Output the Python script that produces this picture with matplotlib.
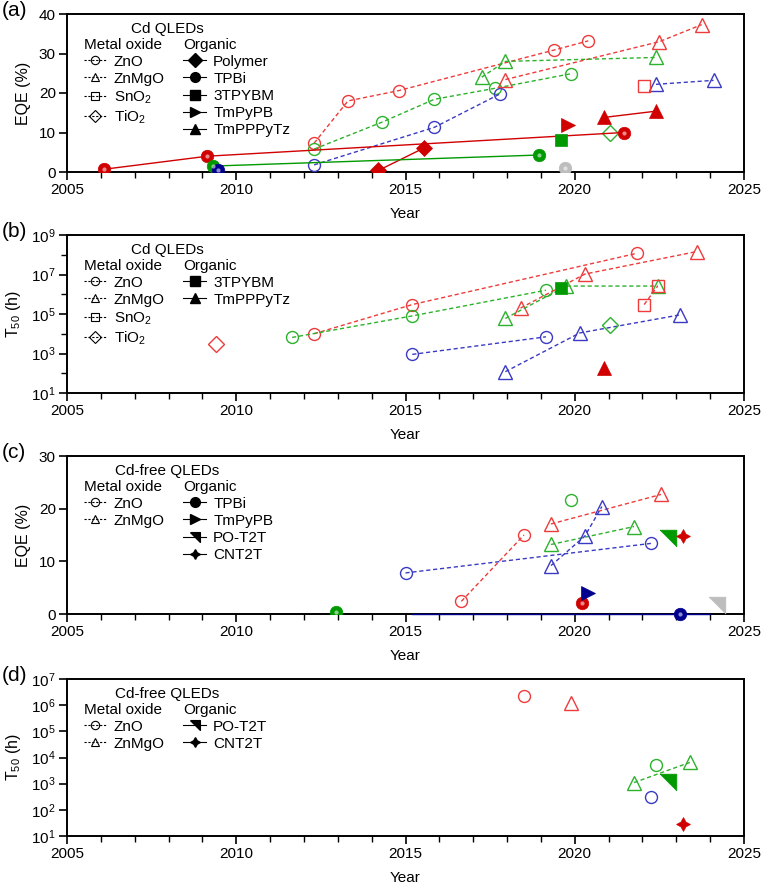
"""Cd / Cd-free QLED EQE and T50 progress vs year"""
import matplotlib
matplotlib.use('Agg')
import matplotlib.pyplot as plt
from matplotlib.lines import Line2D
from matplotlib.ticker import FixedLocator, NullFormatter

plt.rcParams['font.family'] = ['Liberation Sans', 'DejaVu Sans']
plt.rcParams['mathtext.fontset'] = 'custom'
plt.rcParams['mathtext.rm'] = 'Liberation Sans'

# colours
R_OPEN = '#EE3B3B'; G_OPEN = '#2CB22C'; B_OPEN = '#3A3AC4'
R_FILL = '#D00000'; G_FILL = '#009A00'; B_FILL = '#00008E'; GRAY = '#BDBDBD'
PO_T2T = [(-1, 1), (1, 1), (1, -1), (-1, 1)]
CNT2T = (4, 1, 0)

# ---------------- (a) Cd QLEDs, EQE (%) ----------------
a_zno_r_x = [2012.3, 2013.3, 2014.8, 2019.4, 2020.4]
a_zno_r_y = [7.3, 18.0, 20.6, 30.9, 33.2]
a_zno_g_x = [2012.3, 2014.3, 2015.85, 2017.65, 2019.9]
a_zno_g_y = [5.8, 12.6, 18.4, 21.2, 24.9]
a_zno_b_x = [2012.3, 2015.85, 2017.8]
a_zno_b_y = [1.8, 11.3, 19.8]
a_znmgo_r_x = [2017.95, 2022.5, 2023.75]
a_znmgo_r_y = [23.4, 33.0, 37.3]
a_znmgo_g_x = [2017.25, 2017.95, 2022.4]
a_znmgo_g_y = [24.0, 28.0, 29.0]
a_znmgo_b_x = [2022.4, 2024.1]
a_znmgo_b_y = [22.2, 23.2]
a_sno2_r_x = [2022.05]; a_sno2_r_y = [21.8]
a_tio2_g_x = [2021.05]; a_tio2_g_y = [10.0]
a_polymer_r_x = [2014.2, 2015.55]; a_polymer_r_y = [0.4, 6.1]
a_tpbi_r_x = [2006.1, 2009.15, 2021.45]; a_tpbi_r_y = [0.7, 4.0, 10.0]
a_tpbi_g_x = [2009.3, 2018.95]; a_tpbi_g_y = [1.5, 4.3]
a_tpbi_b_x = [2009.45]; a_tpbi_b_y = [0.5]
a_tpbi_k_x = [2019.7]; a_tpbi_k_y = [1.0]
a_3tpybm_g_x = [2019.6]; a_3tpybm_g_y = [8.1]
a_tmpypb_r_x = [2019.8]; a_tmpypb_r_y = [11.9]
a_tmpppytz_r_x = [2020.85, 2022.4]; a_tmpppytz_r_y = [13.8, 15.4]

# ---------------- (b) Cd QLEDs, T50 (h) ----------------
b_zno_r_x = [2012.3, 2015.2, 2021.85]; b_zno_r_y = [1e4, 3e5, 1.2e8]
b_zno_g_x = [2011.65, 2015.2, 2019.15]; b_zno_g_y = [6.5e3, 8e4, 1.6e6]
b_zno_b_x = [2015.2, 2019.15]; b_zno_b_y = [900, 7e3]
b_znmgo_r_x = [2018.4, 2020.3, 2023.6]; b_znmgo_r_y = [2e5, 1.05e7, 1.45e8]
b_znmgo_g_x = [2017.95, 2019.75, 2022.45]; b_znmgo_g_y = [6e4, 2.6e6, 2.6e6]
b_znmgo_b_x = [2017.95, 2020.15, 2023.1]; b_znmgo_b_y = [120, 1.1e4, 9e4]
b_sno2_r_x = [2022.05, 2022.45]; b_sno2_r_y = [3e5, 2.6e6]
b_tio2_r_x = [2009.4]; b_tio2_r_y = [3e3]
b_tio2_g_x = [2021.05]; b_tio2_g_y = [2.7e4]
b_3tpybm_g_x = [2019.6]; b_3tpybm_g_y = [2e6]
b_tmpppytz_r_x = [2020.85]; b_tmpppytz_r_y = [190]

# ---------------- (c) Cd-free QLEDs, EQE (%) ----------------
c_zno_b_x = [2015.0, 2022.25]; c_zno_b_y = [7.8, 13.4]
c_zno_r_x = [2016.65, 2018.5]; c_zno_r_y = [2.4, 15.0]
c_zno_g_x = [2019.9]; c_zno_g_y = [21.6]
c_znmgo_r_x = [2019.3, 2022.55]; c_znmgo_r_y = [17.1, 22.7]
c_znmgo_g_x = [2019.3, 2021.75]; c_znmgo_g_y = [13.2, 16.6]
c_znmgo_b_x = [2019.3, 2020.3, 2020.8]; c_znmgo_b_y = [9.2, 14.8, 20.4]
c_tpbi_r_x = [2020.2]; c_tpbi_r_y = [2.1]
c_tpbi_g_x = [2012.95]; c_tpbi_g_y = [0.3]
c_tpbi_b_x = [2015.2, 2023.1, 2024.0]; c_tpbi_b_y = [0, 0, 0]
c_tmpypb_b_x = [2020.4]; c_tmpypb_b_y = [4.0]
c_pot2t_g_x = [2022.75]; c_pot2t_g_y = [14.5]
c_pot2t_k_x = [2024.2]; c_pot2t_k_y = [1.8]
c_cnt2t_r_x = [2023.2]; c_cnt2t_r_y = [14.9]

# ---------------- (d) Cd-free QLEDs, T50 (h) ----------------
d_zno_r_x = [2018.5]; d_zno_r_y = [2.2e6]
d_znmgo_r_x = [2019.9]; d_znmgo_r_y = [1.2e6]
d_zno_g_x = [2022.4]; d_zno_g_y = [5e3]
d_znmgo_g_x = [2021.75, 2023.4]; d_znmgo_g_y = [1.1e3, 6.5e3]
d_pot2t_g_x = [2022.75]; d_pot2t_g_y = [1.2e3]
d_zno_b_x = [2022.25]; d_zno_b_y = [300]
d_cnt2t_r_x = [2023.2]; d_cnt2t_r_y = [30]

OXIDE_MARK = {'ZnO': ('o', 8.6), 'ZnMgO': ('^', 9.5), 'SnO2': ('s', 8.8), 'TiO2': ('D', 8.6)}


def oxide(ax, x, y, kind, color):
    m, ms = OXIDE_MARK[kind]
    ax.plot(x, y, ls=(0, (3, 2)), lw=1.0, color=color, marker=m, ms=ms,
            mfc='none', mec=color, mew=1.0, zorder=3)


def organic(ax, x, y, marker, color, ms=9, **kw):
    ax.plot(x, y, ls='-', lw=1.0, color=color, marker=marker, ms=ms,
            mfc=color, mec=color, mew=0.5, zorder=4, **kw)


def ball(ax, x, y, color, **kw):
    organic(ax, x, y, 'o', color, ms=9, **kw)
    ax.plot(x, y, ls='none', marker='o', ms=3, mfc='white', mec='none',
            alpha=0.55, zorder=5, **kw)


def legend(ax, title, oxides, organics, top=0.85):
    ax.text(0.148, 0.905, title, transform=ax.transAxes, ha='center',
            va='center', fontsize=11)
    h1 = [Line2D([], [], ls=(0, (2, 1.5)), lw=0.8, color='k', marker=OXIDE_MARK[k][0],
                 ms=6, mfc='none', mew=0.8) for k, _ in oxides]
    h2 = [Line2D([], [], ls='-', lw=0.8, color='k', marker=m, ms=7, mfc='k', mec='k')
          for _, m in organics]
    kw = dict(frameon=False, fontsize=11, title_fontsize=11, handlelength=1.5,
              handletextpad=0.45, labelspacing=0.2, borderpad=0, borderaxespad=0,
              alignment='left')
    l1 = ax.legend(h1, [lab for _, lab in oxides], title='Metal oxide', loc='upper left',
                   bbox_to_anchor=(0.025, top), **kw)
    ax.add_artist(l1)
    ax.legend(h2, [lab for lab, _ in organics], title='Organic', loc='upper left',
              bbox_to_anchor=(0.172, top), **kw)


def style(ax, ylabel, letter):
    ax.set_xlim(2005, 2025)
    ax.set_xticks([2005, 2010, 2015, 2020, 2025])
    ax.xaxis.set_minor_locator(FixedLocator(range(2005, 2026)))
    ax.tick_params(axis='both', which='major', direction='out', length=6, width=1.2,
                   labelsize=11, pad=2)
    ax.tick_params(axis='both', which='minor', direction='out', length=4, width=1.0)
    for s in ax.spines.values():
        s.set_linewidth(1.4)
    ax.set_xlabel('Year', fontsize=11, labelpad=7)
    ax.set_ylabel(ylabel, fontsize=11.5, labelpad=6)
    ax.text(-0.097, 1.02, letter, transform=ax.transAxes, fontsize=15, ha='left', va='center')


fig = plt.figure(figsize=(7.62, 8.85), dpi=100)
L, W = 67 / 762, 677 / 762
axa = fig.add_axes([L, 1 - 172 / 885, W, 158 / 885])
axb = fig.add_axes([L, 1 - 393 / 885, W, 158 / 885])
axc = fig.add_axes([L, 1 - 614 / 885, W, 158 / 885])
axd = fig.add_axes([L, 1 - 836 / 885, W, 157 / 885])

# (a)
ax = axa
oxide(ax, a_zno_r_x, a_zno_r_y, 'ZnO', R_OPEN)
oxide(ax, a_zno_g_x, a_zno_g_y, 'ZnO', G_OPEN)
oxide(ax, a_zno_b_x, a_zno_b_y, 'ZnO', B_OPEN)
oxide(ax, a_znmgo_r_x, a_znmgo_r_y, 'ZnMgO', R_OPEN)
oxide(ax, a_znmgo_g_x, a_znmgo_g_y, 'ZnMgO', G_OPEN)
oxide(ax, a_znmgo_b_x, a_znmgo_b_y, 'ZnMgO', B_OPEN)
oxide(ax, a_sno2_r_x, a_sno2_r_y, 'SnO2', R_OPEN)
oxide(ax, a_tio2_g_x, a_tio2_g_y, 'TiO2', G_OPEN)
organic(ax, a_polymer_r_x, a_polymer_r_y, 'D', R_FILL, ms=8.5)
ball(ax, a_tpbi_r_x, a_tpbi_r_y, R_FILL)
ball(ax, a_tpbi_g_x, a_tpbi_g_y, G_FILL)
ball(ax, a_tpbi_b_x, a_tpbi_b_y, B_FILL)
ball(ax, a_tpbi_k_x, a_tpbi_k_y, GRAY)
organic(ax, a_3tpybm_g_x, a_3tpybm_g_y, 's', G_FILL, ms=9)
organic(ax, a_tmpypb_r_x, a_tmpypb_r_y, '>', R_FILL, ms=10)
organic(ax, a_tmpppytz_r_x, a_tmpppytz_r_y, '^', R_FILL, ms=10.5)
ax.set_ylim(0, 40)
ax.set_yticks([0, 10, 20, 30, 40])
style(ax, 'EQE (%)', '(a)')
legend(ax, 'Cd QLEDs', [('ZnO', 'ZnO'), ('ZnMgO', 'ZnMgO'), ('SnO2', 'SnO$_2$'), ('TiO2', 'TiO$_2$')],
       [('Polymer', 'D'), ('TPBi', 'o'), ('3TPYBM', 's'), ('TmPyPB', '>'), ('TmPPPyTz', '^')])

# (b)
ax = axb
ax.set_yscale('log')
oxide(ax, b_zno_r_x, b_zno_r_y, 'ZnO', R_OPEN)
oxide(ax, b_zno_g_x, b_zno_g_y, 'ZnO', G_OPEN)
oxide(ax, b_zno_b_x, b_zno_b_y, 'ZnO', B_OPEN)
oxide(ax, b_znmgo_r_x, b_znmgo_r_y, 'ZnMgO', R_OPEN)
oxide(ax, b_znmgo_g_x, b_znmgo_g_y, 'ZnMgO', G_OPEN)
oxide(ax, b_znmgo_b_x, b_znmgo_b_y, 'ZnMgO', B_OPEN)
oxide(ax, b_sno2_r_x, b_sno2_r_y, 'SnO2', R_OPEN)
oxide(ax, b_tio2_r_x, b_tio2_r_y, 'TiO2', R_OPEN)
oxide(ax, b_tio2_g_x, b_tio2_g_y, 'TiO2', G_OPEN)
organic(ax, b_3tpybm_g_x, b_3tpybm_g_y, 's', G_FILL, ms=9)
organic(ax, b_tmpppytz_r_x, b_tmpppytz_r_y, '^', R_FILL, ms=10.5)
ax.set_ylim(1e1, 1e9)
ax.yaxis.set_major_locator(FixedLocator([1e1, 1e3, 1e5, 1e7, 1e9]))
ax.yaxis.set_minor_locator(FixedLocator([1e2, 1e4, 1e6, 1e8]))
ax.yaxis.set_minor_formatter(NullFormatter())
style(ax, 'T$_{50}$ (h)', '(b)')
legend(ax, 'Cd QLEDs', [('ZnO', 'ZnO'), ('ZnMgO', 'ZnMgO'), ('SnO2', 'SnO$_2$'), ('TiO2', 'TiO$_2$')],
       [('3TPYBM', 's'), ('TmPPPyTz', '^')])

# (c)
ax = axc
oxide(ax, c_zno_b_x, c_zno_b_y, 'ZnO', B_OPEN)
oxide(ax, c_zno_r_x, c_zno_r_y, 'ZnO', R_OPEN)
oxide(ax, c_zno_g_x, c_zno_g_y, 'ZnO', G_OPEN)
oxide(ax, c_znmgo_r_x, c_znmgo_r_y, 'ZnMgO', R_OPEN)
oxide(ax, c_znmgo_g_x, c_znmgo_g_y, 'ZnMgO', G_OPEN)
oxide(ax, c_znmgo_b_x, c_znmgo_b_y, 'ZnMgO', B_OPEN)
ball(ax, c_tpbi_r_x, c_tpbi_r_y, R_FILL)
ball(ax, c_tpbi_g_x, c_tpbi_g_y, G_FILL)
ball(ax, c_tpbi_b_x, c_tpbi_b_y, B_FILL, markevery=[1], clip_on=False)
organic(ax, c_tmpypb_b_x, c_tmpypb_b_y, '>', B_FILL, ms=10)
organic(ax, c_pot2t_g_x, c_pot2t_g_y, PO_T2T, G_FILL, ms=12)
organic(ax, c_pot2t_k_x, c_pot2t_k_y, PO_T2T, GRAY, ms=12)
organic(ax, c_cnt2t_r_x, c_cnt2t_r_y, CNT2T, R_FILL, ms=10)
ax.set_ylim(0, 30)
ax.set_yticks([0, 10, 20, 30])
style(ax, 'EQE (%)', '(c)')
legend(ax, 'Cd-free QLEDs', [('ZnO', 'ZnO'), ('ZnMgO', 'ZnMgO')],
       [('TPBi', 'o'), ('TmPyPB', '>'), ('PO-T2T', PO_T2T), ('CNT2T', CNT2T)])

# (d)
ax = axd
ax.set_yscale('log')
oxide(ax, d_zno_r_x, d_zno_r_y, 'ZnO', R_OPEN)
oxide(ax, d_znmgo_r_x, d_znmgo_r_y, 'ZnMgO', R_OPEN)
oxide(ax, d_zno_g_x, d_zno_g_y, 'ZnO', G_OPEN)
oxide(ax, d_znmgo_g_x, d_znmgo_g_y, 'ZnMgO', G_OPEN)
oxide(ax, d_zno_b_x, d_zno_b_y, 'ZnO', B_OPEN)
organic(ax, d_pot2t_g_x, d_pot2t_g_y, PO_T2T, G_FILL, ms=12)
organic(ax, d_cnt2t_r_x, d_cnt2t_r_y, CNT2T, R_FILL, ms=10)
ax.set_ylim(1e1, 1e7)
ax.yaxis.set_major_locator(FixedLocator([1e1, 1e2, 1e3, 1e4, 1e5, 1e6, 1e7]))
ax.yaxis.set_minor_locator(FixedLocator([]))
style(ax, 'T$_{50}$ (h)', '(d)')
legend(ax, 'Cd-free QLEDs', [('ZnO', 'ZnO'), ('ZnMgO', 'ZnMgO')],
       [('PO-T2T', PO_T2T), ('CNT2T', CNT2T)])

fig.savefig('out.png', dpi=100, facecolor='white')
plt.close(fig)
